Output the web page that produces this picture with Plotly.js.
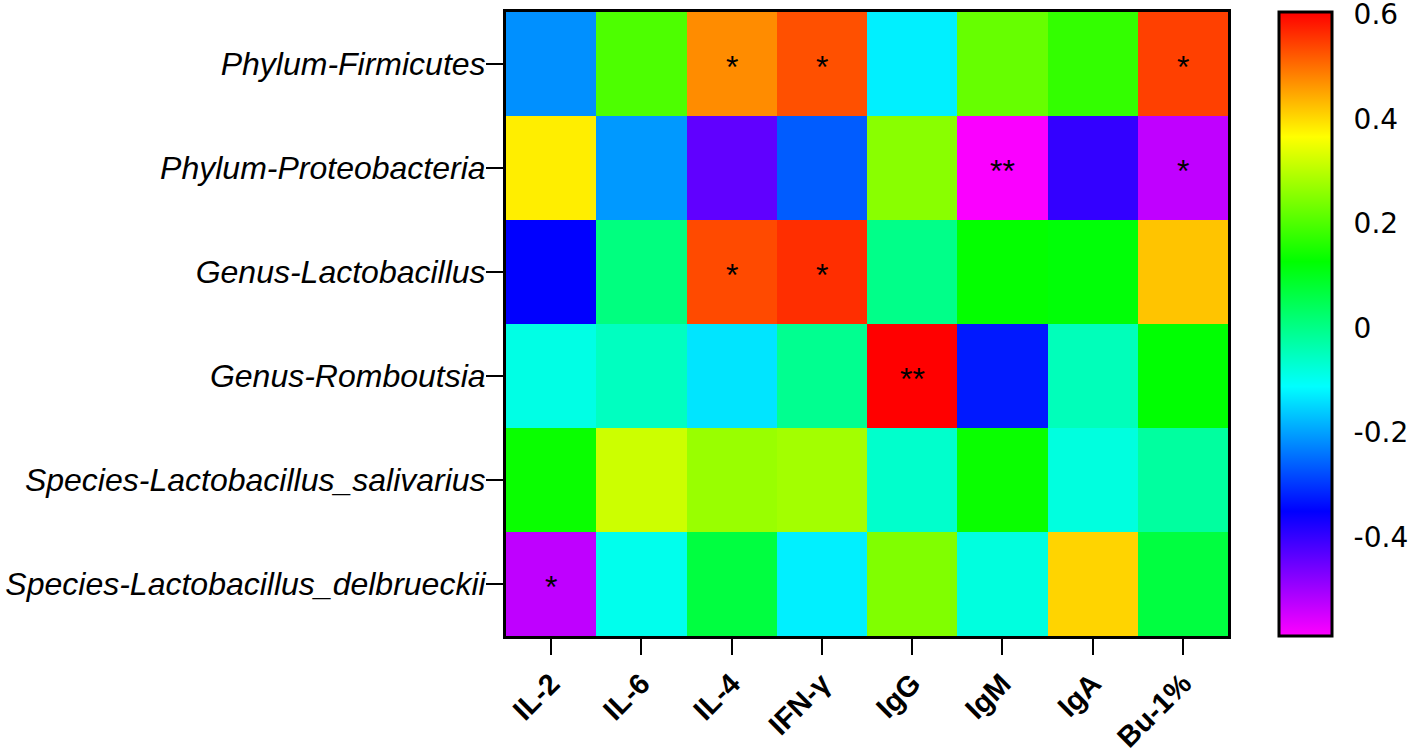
<!DOCTYPE html>
<html>
<head>
<meta charset="utf-8">
<script src="https://cdn.plot.ly/plotly-3.0.1.min.js"></script>
<style>
html,body{margin:0;padding:0;background:#fff;}
#chart{width:1418px;height:755px;}
</style>
</head>
<body>
<div id="chart"></div>
<script>
// Column categories (immune indices)
const columns = ['IL-2', 'IL-6', 'IL-4', 'IFN-γ', 'IgG', 'IgM', 'IgA', 'Bu-1%'];
// Row categories (bacterial taxa)
const rows = [
  'Phylum-Firmicutes',
  'Phylum-Proteobacteria',
  'Genus-Lactobacillus',
  'Genus-Romboutsia',
  'Species-Lactobacillus_salivarius',
  'Species-Lactobacillus_delbrueckii'
];
// Correlation values, one array per row
const firmicutes      = [-0.216, 0.199, 0.474, 0.530, -0.126, 0.223, 0.175, 0.545];
const proteobacteria  = [0.382, -0.208, -0.441, -0.265, 0.255, -0.585, -0.399, -0.531];
const lactobacillus   = [-0.351, 0.008, 0.536, 0.562, -0.001, 0.130, 0.120, 0.421];
const romboutsia      = [-0.088, -0.053, -0.136, -0.008, 0.605, -0.328, -0.047, 0.125];
const salivarius      = [0.135, 0.318, 0.270, 0.280, -0.064, 0.135, -0.082, -0.022];
const delbrueckii     = [-0.530, -0.095, 0.067, -0.126, 0.247, -0.082, 0.406, 0.067];
// Significance marks, one array per row
const sigFirmicutes     = ['', '', '*', '*', '', '', '', '*'];
const sigProteobacteria = ['', '', '', '', '', '**', '', '*'];
const sigLactobacillus  = ['', '', '*', '*', '', '', '', ''];
const sigRomboutsia     = ['', '', '', '', '**', '', '', ''];
const sigSalivarius     = ['', '', '', '', '', '', '', ''];
const sigDelbrueckii    = ['*', '', '', '', '', '', '', ''];
// Colour bar ticks
const cbTickVals = [-0.4, -0.2, 0, 0.2, 0.4, 0.6];
const cbTickText = ['-0.4', '-0.2', '0', '0.2', '0.4', '0.6'];

const zMin = -0.59, zMax = 0.605;
const z = [firmicutes, proteobacteria, lactobacillus, romboutsia, salivarius, delbrueckii];
const sig = [sigFirmicutes, sigProteobacteria, sigLactobacillus, sigRomboutsia, sigSalivarius, sigDelbrueckii];

const W = 1418, H = 755;
const margin = {l: 506, r: 190, t: 12, b: 119, pad: 0, autoexpand: false};
const plotW = W - margin.l - margin.r;
const cbX = 1.0705, cbThick = 53, cbTickLen = 8;

const annotations = [];
sig.forEach((r, i) => r.forEach((s, j) => {
  if (s) annotations.push({
    x: columns[j], y: rows[i], xref: 'x', yref: 'y', text: s, showarrow: false,
    font: {family: 'Liberation Sans, Arial, sans-serif', size: 32, color: '#000'},
    yshift: -3
  });
}));

// inner tick marks on both sides of the colour bar
const shapes = [];
cbTickVals.forEach(v => {
  const yy = (v - zMin) / (zMax - zMin);
  [[cbX, cbX + cbTickLen / plotW], [cbX + (cbThick - cbTickLen) / plotW, cbX + cbThick / plotW]].forEach(([x0, x1]) => {
    shapes.push({type: 'line', xref: 'paper', yref: 'paper', x0: x0, x1: x1, y0: yy, y1: yy,
      line: {color: '#000', width: 3}});
  });
});

const trace = {
  type: 'heatmap',
  x: columns, y: rows, z: z,
  zmin: zMin, zmax: zMax,
  colorscale: [
    [0, '#FF00FF'], [0.2, '#0000FF'], [0.4, '#00FFFF'],
    [0.6, '#00FF00'], [0.8, '#FFFF00'], [1, '#FF0000']
  ],
  xgap: 0, ygap: 0,
  colorbar: {
    x: cbX, xanchor: 'left', xpad: 0,
    y: 0.5, yanchor: 'middle', len: 1.0, lenmode: 'fraction', ypad: 0,
    thickness: cbThick,
    outlinewidth: 3, outlinecolor: '#000',
    tickmode: 'array', tickvals: cbTickVals, ticktext: cbTickText,
    ticks: 'outside', ticklen: 15, tickwidth: 1, tickcolor: 'rgba(0,0,0,0)',
    ticklabeloverflow: 'allow',
    tickfont: {family: 'DejaVu Sans, sans-serif', size: 28, color: '#000'}
  }
};

const layout = {
  width: W, height: H,
  margin: margin,
  paper_bgcolor: '#fff', plot_bgcolor: '#fff',
  font: {family: 'Liberation Sans, Arial, sans-serif', color: '#000'},
  xaxis: {
    type: 'category', showline: true, linewidth: 3, linecolor: '#000', mirror: true,
    ticks: 'outside', ticklen: 16, tickwidth: 2, tickcolor: '#000',
    tickangle: -45, showgrid: false, zeroline: false, automargin: false,
    tickfont: {family: 'Liberation Sans, Arial, sans-serif', size: 29, weight: 'bold', color: '#000'}
  },
  yaxis: {
    type: 'category', autorange: 'reversed', showline: true, linewidth: 3, linecolor: '#000', mirror: true,
    ticks: 'outside', ticklen: 17, tickwidth: 2, tickcolor: '#000',
    ticklabelstandoff: -6, automargin: false,
    showgrid: false, zeroline: false,
    tickfont: {family: 'Liberation Sans, Arial, sans-serif', size: 32, style: 'italic', color: '#000'}
  },
  annotations: annotations,
  shapes: shapes,
  showlegend: false
};

Plotly.newPlot('chart', [trace], layout, {displayModeBar: false, staticPlot: true});
</script>
</body>
</html>
